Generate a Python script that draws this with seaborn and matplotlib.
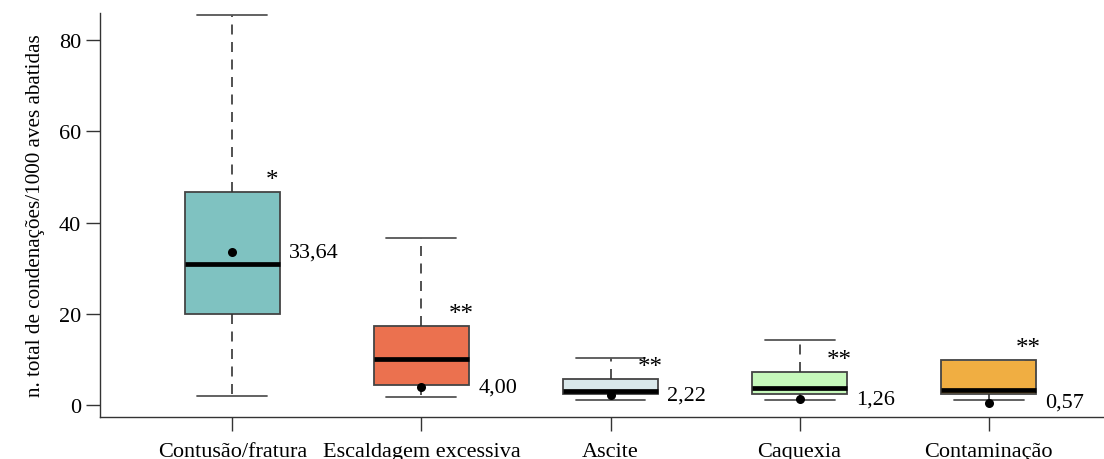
import pandas as pd
import matplotlib.pyplot as plt
import seaborn as sns
import numpy as np

# five-number summaries (min, Q1, median, Q3, max)
categories = ["Contusão/fratura", "Escaldagem excessiva", "Ascite", "Caquexia", "Contaminação"]
lower = [2.0, 1.75, 1.1, 1.1, 1.1]
q1 = [20.0, 4.4, 2.5, 2.4, 2.5]
median = [30.9, 10.1, 3.2, 3.8, 3.3]
q3 = [46.7, 17.4, 5.7, 7.3, 9.9]
upper = [85.5, 36.6, 10.3, 14.2, 9.9]
means = [33.64, 4.00, 2.22, 1.26, 0.57]
mean_labels = ["33,64", "4,00", "2,22", "1,26", "0,57"]
signif = ["*", "**", "**", "**", "**"]
colors = ["#7fc2c1", "#eb714f", "#d9e8ea", "#c6f8bb", "#f0ae42"]

rows = []
for i, cat in enumerate(categories):
    for v in (lower[i], q1[i], median[i], q3[i], upper[i]):
        rows.append({"cat": cat, "val": v})
df = pd.DataFrame(rows)
df_means = pd.DataFrame({"cat": categories, "mean": means})

sns.set_style("ticks")
plt.rcParams['font.family'] = ['Liberation Serif', 'DejaVu Serif']
plt.rcParams['text.color'] = 'black'
plt.rcParams['xtick.color'] = 'black'
plt.rcParams['ytick.color'] = 'black'
plt.rcParams['axes.labelcolor'] = 'black'

fig = plt.figure(figsize=(11.04, 4.6), dpi=100)
ax = fig.add_axes([0.0906, 0.0913, 0.9094, 0.879])

sns.boxplot(data=df, x="cat", y="val", hue="cat", palette=colors, legend=False,
            order=categories, width=0.5, whis=(0, 100), saturation=1, ax=ax,
            linecolor="#444444", linewidth=1.3, capwidths=0.37,
            boxprops=dict(edgecolor="#444444"),
            medianprops=dict(color="black", linewidth=3.4),
            whiskerprops=dict(color="#333333", linestyle=(0, (6, 4.5)), linewidth=1.2),
            capprops=dict(color="#555555", linewidth=1.3))

sns.stripplot(data=df_means, x="cat", y="mean", order=categories, jitter=False,
              color="black", size=6.5, ax=ax, zorder=5)

for i in range(len(categories)):
    ax.text(i + 0.3, means[i], mean_labels[i], fontsize=16, va="center", ha="left")
    ax.text(i + 0.21, q3[i] + 2.6, signif[i], fontsize=18, ha="center", va="center")

ax.set_xlim(-0.70, 4.61)
ax.set_ylim(-2.6, 86.0)
ax.set_yticks([0, 20, 40, 60, 80])
ax.set_xlabel("")
ax.set_ylabel("n. total de condenações/1000 aves abatidas", fontsize=15.2, labelpad=10)
ax.tick_params(axis="both", labelsize=16, length=10, width=1.0, color="#333333")
ax.tick_params(axis="x", pad=8)
sns.despine(ax=ax)
for s in ("left", "bottom"):
    ax.spines[s].set_color("#333333")
    ax.spines[s].set_linewidth(1.0)

fig.savefig("out.png", dpi=100)
